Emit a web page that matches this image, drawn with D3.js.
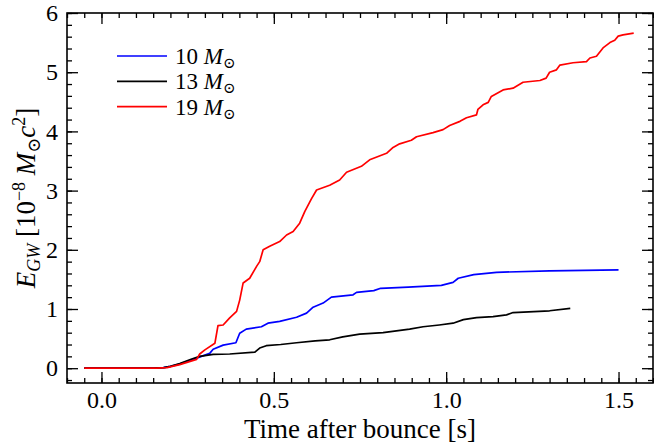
<!DOCTYPE html>
<html>
<head>
<meta charset="utf-8">
<script src="https://cdn.jsdelivr.net/npm/d3@7"></script>
<style>
body { margin: 0; background: #fff; }
text { font-family: "Liberation Serif", "DejaVu Serif", serif; }
</style>
</head>
<body>
<svg width="654" height="445"></svg>
<script>
// series: time after bounce [s] and E_GW [1e-8 Msun c^2]
var t10 = [-0.05, 0.15, 0.18, 0.2, 0.227, 0.276, 0.314, 0.324, 0.353, 0.39, 0.401, 0.42, 0.464, 0.483, 0.517, 0.566, 0.595, 0.614, 0.643, 0.667, 0.73, 0.74, 0.79, 0.81, 0.89, 0.986, 1.02, 1.035, 1.08, 1.146, 1.3, 1.5];
var e10 = [0, 0, 0.01, 0.03, 0.07, 0.17, 0.25, 0.32, 0.39, 0.43, 0.59, 0.66, 0.70, 0.76, 0.79, 0.86, 0.93, 1.03, 1.10, 1.20, 1.24, 1.28, 1.31, 1.35, 1.37, 1.40, 1.45, 1.52, 1.58, 1.62, 1.645, 1.66];

var t13 = [-0.05, 0.15, 0.18, 0.2, 0.227, 0.26, 0.285, 0.324, 0.372, 0.445, 0.459, 0.478, 0.52, 0.566, 0.62, 0.662, 0.70, 0.749, 0.817, 0.894, 0.933, 0.98, 1.02, 1.05, 1.088, 1.136, 1.175, 1.194, 1.3, 1.36];
var e13 = [0, 0, 0.01, 0.03, 0.08, 0.15, 0.20, 0.235, 0.24, 0.27, 0.34, 0.38, 0.40, 0.43, 0.46, 0.48, 0.53, 0.575, 0.60, 0.66, 0.70, 0.73, 0.76, 0.82, 0.855, 0.87, 0.90, 0.94, 0.97, 1.01];

var t19 = [-0.05, 0.16, 0.19, 0.227, 0.276, 0.285, 0.3, 0.329, 0.338, 0.353, 0.372, 0.392, 0.401, 0.411, 0.43, 0.45, 0.459, 0.469, 0.488, 0.517, 0.537, 0.556, 0.575, 0.59, 0.609, 0.624, 0.662, 0.691, 0.711, 0.754, 0.778, 0.827, 0.846, 0.865, 0.899, 0.914, 0.962, 0.991, 1.01, 1.04, 1.059, 1.088, 1.092, 1.107, 1.122, 1.131, 1.165, 1.194, 1.223, 1.272, 1.29, 1.3, 1.32, 1.33, 1.368, 1.407, 1.417, 1.436, 1.455, 1.475, 1.489, 1.499, 1.513, 1.544];
var e19 = [0, 0, 0.01, 0.06, 0.15, 0.24, 0.31, 0.42, 0.72, 0.73, 0.85, 0.96, 1.15, 1.44, 1.52, 1.72, 1.80, 2.0, 2.06, 2.14, 2.25, 2.31, 2.45, 2.65, 2.86, 3.01, 3.09, 3.18, 3.31, 3.41, 3.52, 3.63, 3.73, 3.79, 3.85, 3.91, 3.98, 4.03, 4.10, 4.17, 4.23, 4.28, 4.37, 4.45, 4.49, 4.59, 4.70, 4.73, 4.83, 4.86, 4.90, 5.0, 5.04, 5.12, 5.16, 5.18, 5.24, 5.27, 5.41, 5.50, 5.54, 5.61, 5.63, 5.66];

var masses = ["10", "13", "19"];
var colors = ["#0000ff", "#000000", "#ff0000"];
var xTicks = [0, 0.5, 1.0, 1.5];
var yTicks = [0, 1, 2, 3, 4, 5, 6];

var svg = d3.select("svg"),
	margin = {top: 13, right: 1, bottom: 62, left: 67},
	width = +svg.attr("width") - margin.left - margin.right,
	height = +svg.attr("height") - margin.top - margin.bottom,
	g = svg.append("g").attr("transform", "translate(" + margin.left + "," + margin.top + ")");

var x = d3.scaleLinear().domain([-0.1, 1.6]).range([0, width]);
var y = d3.scaleLinear().domain([-0.25, 6]).range([height, 0]);

var xMinor = d3.range(-0.1, 1.6001, 0.05).map(function (d) { return Math.round(d * 100) / 100; });
var yMinor = d3.range(-0.2, 6.001, 0.2).map(function (d) { return Math.round(d * 10) / 10; });

function styleAxis(sel) {
	sel.select(".domain").remove();
	sel.selectAll("line").attr("stroke", "#000").attr("stroke-width", 1.3);
}

// minor ticks, all four sides, pointing in
g.append("g").attr("transform", "translate(0," + height + ")")
	.call(d3.axisBottom(x).tickValues(xMinor).tickSize(-5).tickFormat("")).call(styleAxis);
g.append("g")
	.call(d3.axisTop(x).tickValues(xMinor).tickSize(-5).tickFormat("")).call(styleAxis);
g.append("g")
	.call(d3.axisLeft(y).tickValues(yMinor).tickSize(-5).tickFormat("")).call(styleAxis);
g.append("g").attr("transform", "translate(" + width + ",0)")
	.call(d3.axisRight(y).tickValues(yMinor).tickSize(-5).tickFormat("")).call(styleAxis);

// major ticks
var xAxis = g.append("g").attr("transform", "translate(0," + height + ")")
	.call(d3.axisBottom(x).tickValues(xTicks).tickSize(-11).tickPadding(8).tickFormat(d3.format(".1f")))
	.call(styleAxis);
g.append("g")
	.call(d3.axisTop(x).tickValues(xTicks).tickSize(-11).tickFormat("")).call(styleAxis);
var yAxis = g.append("g")
	.call(d3.axisLeft(y).tickValues(yTicks).tickSize(-11).tickPadding(9).tickFormat(d3.format("d")))
	.call(styleAxis);
g.append("g").attr("transform", "translate(" + width + ",0)")
	.call(d3.axisRight(y).tickValues(yTicks).tickSize(-11).tickFormat("")).call(styleAxis);

xAxis.selectAll("text").attr("font-size", 24).attr("fill", "#000")
	.style("font-family", "'Liberation Serif', serif");
yAxis.selectAll("text").attr("font-size", 24).attr("fill", "#000")
	.style("font-family", "'Liberation Serif', serif");

// curves
var series = [
	{t: t10, e: e10},
	{t: t13, e: e13},
	{t: t19, e: e19}
];
var line = d3.line()
	.x(function (d) { return x(d[0]); })
	.y(function (d) { return y(d[1]); });

series.forEach(function (s, i) {
	g.append("path")
		.datum(d3.zip(s.t, s.e))
		.attr("fill", "none")
		.attr("stroke", colors[i])
		.attr("stroke-width", 1.7)
		.attr("stroke-linejoin", "round")
		.attr("d", line);
});

// frame
g.append("rect")
	.attr("width", width).attr("height", height)
	.attr("fill", "none").attr("stroke", "#000").attr("stroke-width", 1.6);

// legend
var legend = g.append("g").attr("transform", "translate(50,43)");
masses.forEach(function (m, i) {
	var row = legend.append("g").attr("transform", "translate(0," + (i * 25.3) + ")");
	row.append("line").attr("x1", 0).attr("x2", 50)
		.attr("stroke", colors[i]).attr("stroke-width", 1.7);
	var t = row.append("text").attr("x", 58).attr("y", 8).attr("font-size", 23);
	t.append("tspan").text(m + " ");
	t.append("tspan").attr("font-style", "italic").text("M");
	t.append("tspan").attr("font-size", 15).attr("dy", 4).text("\u2299");
});

// axis labels
svg.append("text")
	.attr("x", margin.left + width / 2)
	.attr("y", 438)
	.attr("text-anchor", "middle")
	.attr("font-size", 27)
	.text("Time after bounce [s]");

var yl = svg.append("text")
	.attr("transform", "translate(35," + (margin.top + height / 2) + ") rotate(-90)")
	.attr("text-anchor", "middle")
	.attr("font-size", 27);
yl.append("tspan").attr("font-style", "italic").text("E");
yl.append("tspan").attr("font-style", "italic").attr("font-size", 18).attr("dy", 5).text("GW");
yl.append("tspan").attr("dy", -5).text(" [10");
yl.append("tspan").attr("font-size", 18).attr("dy", -10).text("\u22128");
yl.append("tspan").attr("dy", 10).attr("font-style", "italic").text(" M");
yl.append("tspan").attr("font-size", 18).attr("dy", 5).text("\u2299");
yl.append("tspan").attr("dy", -5).attr("font-style", "italic").text("c");
yl.append("tspan").attr("font-size", 18).attr("dy", -10).text("2");
yl.append("tspan").attr("dy", 10).text("]");
</script>
</body>
</html>
